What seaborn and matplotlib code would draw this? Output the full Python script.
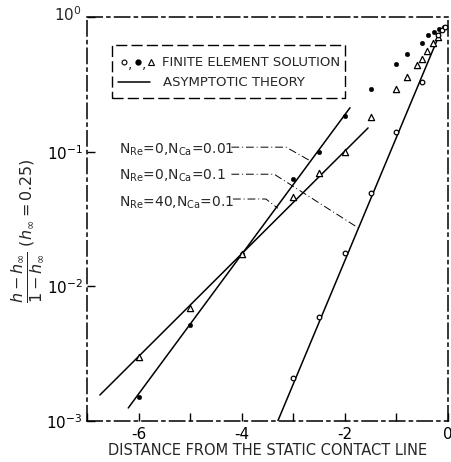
import matplotlib
matplotlib.use("Agg")
import matplotlib.pyplot as plt
import seaborn as sns
import numpy as np
import pandas as pd
from matplotlib.patches import Rectangle

# ---- data ----
x_filled = [-6, -5, -4, -3, -2.5, -2, -1.5, -1, -0.8, -0.5, -0.38, -0.28, -0.18, -0.08]
y_filled = [0.0015, 0.0052, 0.0175, 0.063, 0.10, 0.184, 0.29, 0.45, 0.53, 0.64, 0.74, 0.78, 0.81, 0.84]

x_tri = [-6, -5, -4, -3, -2.5, -2, -1.5, -1, -0.8, -0.6, -0.5, -0.4, -0.3, -0.2]
y_tri = [0.003, 0.0069, 0.0175, 0.046, 0.069, 0.10, 0.18, 0.29, 0.36, 0.44, 0.49, 0.56, 0.64, 0.71]

x_circ = [-3, -2.5, -2, -1.5, -1, -0.5, -0.2, -0.12, -0.05]
y_circ = [0.0021, 0.0059, 0.0177, 0.049, 0.14, 0.33, 0.74, 0.80, 0.85]

theory_filled_x = [-6.2, -1.9]
theory_filled_y = [0.00125, 0.212]
theory_tri_x = [-6.75, -1.55]
theory_tri_y = [0.00156, 0.15]
theory_circ_x = [-3.3, -0.13]
theory_circ_y = [0.001, 0.80]

labels = [r"$\mathregular{N_{Re}}$=0,$\mathregular{N_{Ca}}$=0.01",
          r"$\mathregular{N_{Re}}$=0,$\mathregular{N_{Ca}}$=0.1",
          r"$\mathregular{N_{Re}}$=40,$\mathregular{N_{Ca}}$=0.1"]
label_y = [0.103, 0.066, 0.042]
leader_x = [[-4.2, -3.14, -2.66], [-4.2, -3.37, -1.73], [-4.17, -3.53, -3.3]]
leader_y = [[0.108, 0.108, 0.085], [0.068, 0.068, 0.027], [0.0445, 0.0445, 0.038]]

xticks = [-7, -6, -5, -4, -3, -2, -1, 0]
xticklabels = ["", "-6", "", "-4", "", "-2", "", "0"]
yticks = [1e-3, 1e-2, 1e-1, 1e0]

# ---- style ----
sns.set_style("ticks")
plt.rcParams['font.family'] = ['DejaVu Sans']
plt.rcParams['mathtext.fontset'] = 'dejavusans'

fig = plt.figure(figsize=(4.52, 4.62), dpi=100)
ax = fig.add_axes([87/452, 1-421/462, (448-87)/452, (421-17)/462])

# theory lines
for tx, ty in [(theory_filled_x, theory_filled_y), (theory_tri_x, theory_tri_y), (theory_circ_x, theory_circ_y)]:
    sns.lineplot(x=tx, y=ty, ax=ax, color="black", lw=1.1, sort=False)

# finite element points
sns.scatterplot(x=x_filled, y=y_filled, ax=ax, marker="o", s=11, color="black", edgecolor="black", zorder=5)
sns.scatterplot(x=x_tri, y=y_tri, ax=ax, marker="^", s=20, facecolor="white", edgecolor="black", linewidth=0.9, zorder=5)
sns.scatterplot(x=x_circ, y=y_circ, ax=ax, marker="o", s=11, facecolor="white", edgecolor="black", linewidth=0.9, zorder=5)

ax.set_yscale("log")
ax.set_xlim(-7, 0)
ax.set_ylim(1e-3, 1e0)

ax.set_xticks(xticks)
ax.set_xticklabels(xticklabels, fontsize=11)
ax.set_yticks(yticks)
ax.set_yticklabels([r"$10^{-3}$", r"$10^{-2}$", r"$10^{-1}$", ""], fontsize=11)
ax.yaxis.set_minor_locator(matplotlib.ticker.NullLocator())
ax.tick_params(axis="both", direction="in", length=6, width=1, colors="black", pad=3)
ax.tick_params(axis="x", pad=4)

for sp in ax.spines.values():
    sp.set_visible(True)
    sp.set_linestyle((0, (10, 3, 2, 3)))
    sp.set_linewidth(1.1)
    sp.set_color("black")

# 10^0 label at top-left
ax.text(-0.015, 1.005, r"$10^{0}$", transform=ax.transAxes, ha="right", va="center", fontsize=11)

# annotation labels with leaders
for lab, ly, lx, lyy in zip(labels, label_y, leader_x, leader_y):
    ax.text(-6.37, ly, lab, fontsize=10, ha="left", va="center")
    ax.plot(lx, lyy, color="black", lw=0.7, linestyle=(0, (8, 3, 1, 3)))

# legend box (manual)
ax.add_patch(Rectangle((0.069, 0.80), 0.646, 0.131, transform=ax.transAxes, fill=False,
                       edgecolor="black", linestyle=(0, (8, 3)), lw=1.0))
ax.plot([0.102], [0.888], transform=ax.transAxes, marker="o", ms=3.5, mfc="white", mec="black", mew=0.8)
ax.text(0.113, 0.884, ",", transform=ax.transAxes, fontsize=10, va="center")
ax.plot([0.140], [0.888], transform=ax.transAxes, marker="o", ms=3.5, color="black")
ax.text(0.151, 0.884, ",", transform=ax.transAxes, fontsize=10, va="center")
ax.plot([0.178], [0.888], transform=ax.transAxes, marker="^", ms=4.5, mfc="white", mec="black", mew=0.8)
ax.text(0.207, 0.888, "FINITE ELEMENT SOLUTION", transform=ax.transAxes, fontsize=9.5, va="center")
ax.plot([0.085, 0.175], [0.838, 0.838], transform=ax.transAxes, color="black", lw=1.1)
ax.text(0.21, 0.838, "ASYMPTOTIC THEORY", transform=ax.transAxes, fontsize=9.5, va="center")

ax.set_xlabel("DISTANCE FROM THE STATIC CONTACT LINE", fontsize=10.5, labelpad=1)
ax.set_ylabel(r"$\dfrac{h-h_\infty}{1-h_\infty}$ $(h_\infty = 0.25)$", fontsize=11.5, labelpad=4)
ax.yaxis.set_label_coords(-0.115, 0.47)

fig.savefig("out.png", dpi=100)
